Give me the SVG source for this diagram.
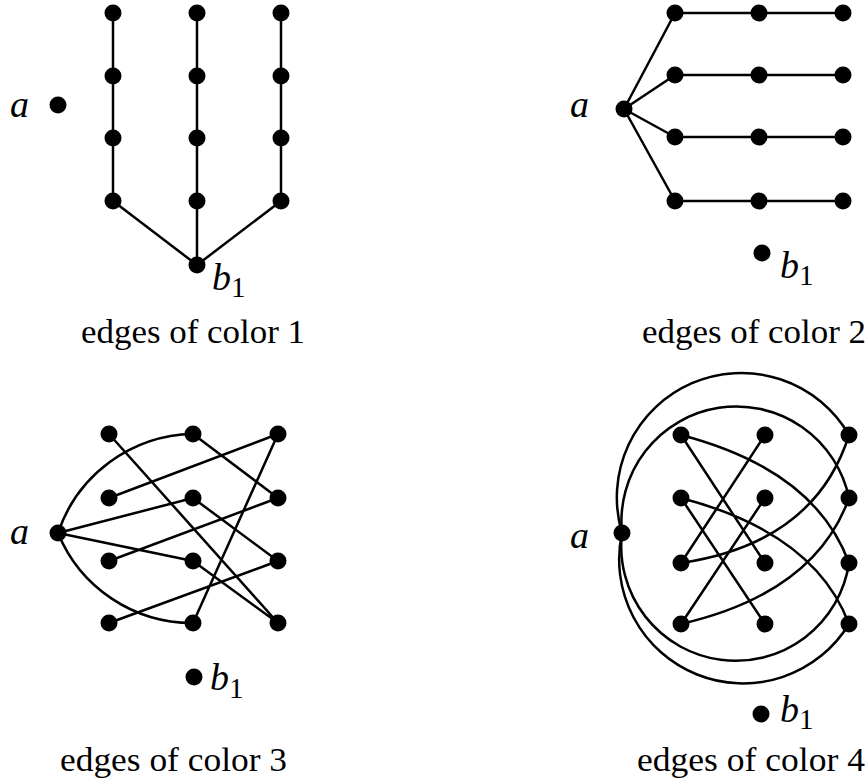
<svg xmlns="http://www.w3.org/2000/svg" width="868" height="784" viewBox="0 0 868 784">
<style>
.e{fill:none;stroke:#000;stroke-width:2.5}
.n{fill:#000}
text{font-family:'Liberation Serif','Times New Roman',Times,serif;fill:#000}
.lab{font-style:italic;font-size:38px}
.sub{font-style:normal;font-size:29px}
.cap{font-size:34px}
</style>
<defs><circle id="dot" r="8.5" class="n"/></defs>
<rect width="868" height="784" fill="#fff"/>
<g id="connectors" class="e">
<path d="M113,13V201M197,13V201M281,13V201M113,201L197,265M197,201V265M281,201L197,265"/>
<path d="M624,109L675,13M624,109L675,75M624,109L675,137M624,109L675,201M675,13H843M675,75H843M675,137H843M675,201H843"/>
<path d="M58,533A145,145 0 0,1 193,434"/>
<path d="M58,533A145,145 0 0,0 193,623"/>
<path d="M109,434L278,623M193,434L278,498M278,434L109,498M278,434L193,623M58,533L193,498M193,498L278,561M278,498L109,561M58,533L193,561M193,561L278,623M278,561L109,623"/>
<path d="M622,533A124.5,124.5 0 0,1 849,435"/>
<path d="M622,533A115,115 0 0,1 849,498"/>
<path d="M622,533A114.5,114.5 0 0,0 849,563"/>
<path d="M622,533A124,124 0 0,0 849,624"/>
<path d="M681,435L765,563M765,435L681,563M681,498L765,624M765,498L681,624"/>
<path d="M681,435Q815,470 849,563M681,498Q815,533 849,624M681,563Q815,543 849,435M681,624Q815,593 849,498"/>
</g>
<g id="p1-a"><use href="#dot" x="58" y="105"/><text class="lab" x="10" y="117">a</text></g>
<g id="p1-b1"><use href="#dot" x="197" y="265"/><text class="lab" x="212" y="290">b<tspan class="sub" x="231" y="297">1</tspan></text></g>
<g id="p1-v11"><use href="#dot" x="113" y="13"/></g>
<g id="p1-v12"><use href="#dot" x="113" y="76"/></g>
<g id="p1-v13"><use href="#dot" x="113" y="138"/></g>
<g id="p1-v14"><use href="#dot" x="113" y="201"/></g>
<g id="p1-v21"><use href="#dot" x="197" y="13"/></g>
<g id="p1-v22"><use href="#dot" x="197" y="76"/></g>
<g id="p1-v23"><use href="#dot" x="197" y="138"/></g>
<g id="p1-v24"><use href="#dot" x="197" y="201"/></g>
<g id="p1-v31"><use href="#dot" x="281" y="13"/></g>
<g id="p1-v32"><use href="#dot" x="281" y="76"/></g>
<g id="p1-v33"><use href="#dot" x="281" y="138"/></g>
<g id="p1-v34"><use href="#dot" x="281" y="201"/></g>
<g id="p2-a"><use href="#dot" x="624" y="109"/><text class="lab" x="570" y="117">a</text></g>
<g id="p2-b1"><use href="#dot" x="762" y="253"/><text class="lab" x="780" y="278">b<tspan class="sub" x="799" y="285">1</tspan></text></g>
<g id="p2-v11"><use href="#dot" x="675" y="13"/></g>
<g id="p2-v12"><use href="#dot" x="675" y="75"/></g>
<g id="p2-v13"><use href="#dot" x="675" y="137"/></g>
<g id="p2-v14"><use href="#dot" x="675" y="201"/></g>
<g id="p2-v21"><use href="#dot" x="759" y="13"/></g>
<g id="p2-v22"><use href="#dot" x="759" y="75"/></g>
<g id="p2-v23"><use href="#dot" x="759" y="137"/></g>
<g id="p2-v24"><use href="#dot" x="759" y="201"/></g>
<g id="p2-v31"><use href="#dot" x="843" y="13"/></g>
<g id="p2-v32"><use href="#dot" x="843" y="75"/></g>
<g id="p2-v33"><use href="#dot" x="843" y="137"/></g>
<g id="p2-v34"><use href="#dot" x="843" y="201"/></g>
<g id="p3-a"><use href="#dot" x="58" y="533"/><text class="lab" x="10" y="544">a</text></g>
<g id="p3-b1"><use href="#dot" x="194" y="677"/><text class="lab" x="210" y="690">b<tspan class="sub" x="229" y="698">1</tspan></text></g>
<g id="p3-v11"><use href="#dot" x="109" y="434"/></g>
<g id="p3-v12"><use href="#dot" x="109" y="498"/></g>
<g id="p3-v13"><use href="#dot" x="109" y="561"/></g>
<g id="p3-v14"><use href="#dot" x="109" y="623"/></g>
<g id="p3-v21"><use href="#dot" x="193" y="434"/></g>
<g id="p3-v22"><use href="#dot" x="193" y="498"/></g>
<g id="p3-v23"><use href="#dot" x="193" y="561"/></g>
<g id="p3-v24"><use href="#dot" x="193" y="623"/></g>
<g id="p3-v31"><use href="#dot" x="278" y="434"/></g>
<g id="p3-v32"><use href="#dot" x="278" y="498"/></g>
<g id="p3-v33"><use href="#dot" x="278" y="561"/></g>
<g id="p3-v34"><use href="#dot" x="278" y="623"/></g>
<g id="p4-a"><use href="#dot" x="622" y="533"/><text class="lab" x="570" y="548">a</text></g>
<g id="p4-b1"><use href="#dot" x="761" y="714"/><text class="lab" x="780" y="722">b<tspan class="sub" x="799" y="729">1</tspan></text></g>
<g id="p4-v11"><use href="#dot" x="681" y="435"/></g>
<g id="p4-v12"><use href="#dot" x="681" y="498"/></g>
<g id="p4-v13"><use href="#dot" x="681" y="563"/></g>
<g id="p4-v14"><use href="#dot" x="681" y="624"/></g>
<g id="p4-v21"><use href="#dot" x="765" y="435"/></g>
<g id="p4-v22"><use href="#dot" x="765" y="498"/></g>
<g id="p4-v23"><use href="#dot" x="765" y="563"/></g>
<g id="p4-v24"><use href="#dot" x="765" y="624"/></g>
<g id="p4-v31"><use href="#dot" x="849" y="435"/></g>
<g id="p4-v32"><use href="#dot" x="849" y="498"/></g>
<g id="p4-v33"><use href="#dot" x="849" y="563"/></g>
<g id="p4-v34"><use href="#dot" x="849" y="624"/></g>
<g id="captions">
<text class="cap" x="81" y="343" textLength="224" lengthAdjust="spacingAndGlyphs">edges of color 1</text>
<text class="cap" x="642" y="343" textLength="224" lengthAdjust="spacingAndGlyphs">edges of color 2</text>
<text class="cap" x="60" y="771" textLength="227" lengthAdjust="spacingAndGlyphs">edges of color 3</text>
<text class="cap" x="637" y="771" textLength="228" lengthAdjust="spacingAndGlyphs">edges of color 4</text>
</g>
</svg>
